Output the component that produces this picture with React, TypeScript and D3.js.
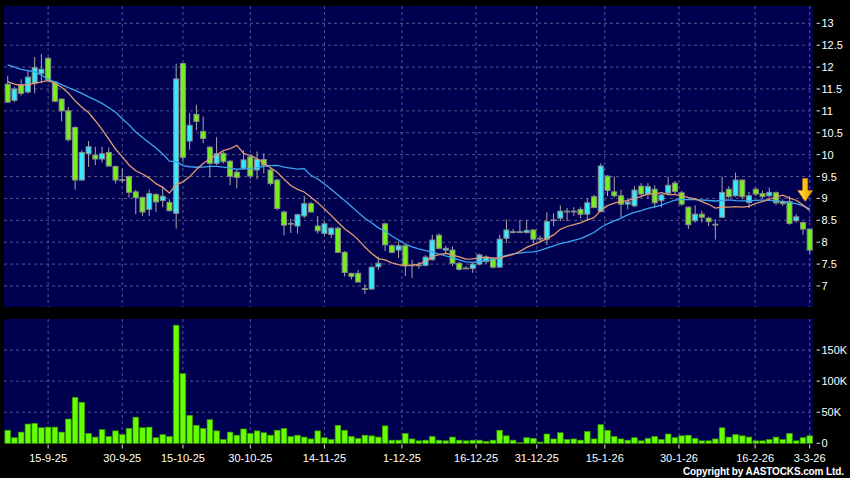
import React from "react";
import * as d3 from "d3";

// ---------- data ----------
const opens = [11.61,11.24,11.6,11.43,11.63,11.85,12.2,11.66,11.27,11.0, 10.62,9.42,10.02,9.99,9.9,10.05,9.73,9.43,9.5,9.15, 9.02,8.75,9.09,8.95,8.91,8.66,12.08,10.31,10.92,10.53, 10.17,9.8,10.03,9.85,9.6,9.69,9.95,9.65,9.89,9.65, 9.42,8.69,8.43,8.37,8.6,8.88,8.37,8.2,8.18,8.32, 7.77,7.29,7.29,6.94,6.93,7.44,8.42,7.92,7.82,7.92, 7.48,7.47,7.47,7.6,8.16,7.82,7.82,7.52,7.41,7.4, 7.5,7.56,7.63,7.43,8.09,8.24,8.24,8.22,8.28,8.08, 8.07,8.5,8.55,8.71,8.71,8.75,8.64,9.04,8.7,9.51, 9.15,9.06,8.87,8.83,9.28,9.1,9.21,8.95,9.12,9.35, 9.13,8.8,8.49,8.64,8.55,8.41,8.57,9.21,9.06,9.42, 8.91,9.21,9.11,9.06,9.13,8.93,8.93,8.49,8.45,8.3];
const highs = [11.8,11.55,11.72,11.92,12.23,12.3,12.23,11.68,11.28,11.08, 10.65,10.1,10.31,10.18,10.18,10.16,9.75,9.68,9.52,9.2, 9.05,9.2,9.12,9.27,8.98,12.08,12.1,10.95,11.14,10.87, 10.2,10.4,10.07,9.88,9.65,10.1,9.98,10.07,10.03,9.7, 9.45,8.72,8.54,8.65,9.06,8.92,8.6,8.48,8.35,8.35, 7.8,7.3,7.37,7.04,7.45,7.67,8.45,7.95,8.02,7.95, 7.6,7.55,7.7,8.17,8.2,7.92,7.9,7.55,7.45,7.52, 7.74,7.7,7.65,8.17,8.52,8.3,8.51,8.51,8.3,8.15, 8.68,8.66,8.84,8.78,8.8,8.8,9.0,9.08,9.8,9.53, 9.5,9.2,9.0,9.28,9.35,9.35,9.3,9.1,9.5,9.4, 9.17,8.82,8.84,8.72,8.58,8.52,9.5,9.28,9.59,9.43, 9.15,9.25,9.18,9.25,9.16,8.98,9.05,8.64,8.47,8.31];
const lows = [11.18,11.2,11.35,11.4,11.4,11.63,11.65,11.2,10.76,10.3, 9.2,9.4,9.72,9.76,9.82,9.72,9.34,9.35,9.02,8.64, 8.6,8.6,8.69,8.8,8.7,8.31,9.84,10.11,10.56,10.26, 9.48,9.76,9.8,9.3,9.23,9.65,9.45,9.44,9.57,9.3, 8.73,8.16,8.21,8.2,8.55,8.68,8.2,8.15,8.1,7.75, 7.22,7.15,7.08,6.82,6.92,7.37,7.8,7.75,7.64,7.23, 7.18,7.4,7.45,7.58,7.84,7.75,7.45,7.35,7.38,7.3, 7.47,7.5,7.4,7.42,7.98,8.2,8.22,8.2,7.98,8.02, 7.94,8.37,8.48,8.48,8.6,8.55,8.5,8.78,8.68,9.05, 9.02,8.57,8.75,8.8,9.05,9.0,8.78,8.8,9.1,9.1, 8.83,8.3,8.45,8.45,8.37,8.06,8.55,9.0,9.03,8.98, 8.78,9.05,9.0,9.02,8.85,8.83,8.4,8.45,8.17,7.74];
const closes = [11.2,11.5,11.4,11.77,11.99,11.95,11.7,11.22,11.0,10.34, 9.42,10.05,10.18,9.9,10.02,9.74,9.42,9.42,9.14,9.02, 8.69,9.11,8.92,9.05,8.72,11.73,9.94,10.67,10.76,10.37, 9.8,10.02,9.84,9.5,9.48,9.88,9.51,9.89,9.76,9.34, 8.77,8.39,8.43,8.63,8.88,8.69,8.26,8.42,8.32,7.77, 7.31,7.22,7.09,6.93,7.43,7.52,7.94,7.77,7.92,7.47, 7.47,7.48,7.66,8.05,7.86,7.86,7.52,7.38,7.41,7.5, 7.71,7.66,7.43,8.07,8.28,8.24,8.24,8.27,8.07,8.09, 8.47,8.51,8.71,8.71,8.71,8.64,8.9,8.79,9.74,9.18, 9.06,8.87,8.92,9.19,9.1,9.27,8.9,9.08,9.3,9.16, 8.87,8.4,8.64,8.57,8.47,8.41,9.14,9.04,9.42,9.04, 9.06,9.1,9.04,9.14,8.9,8.88,8.43,8.58,8.3,7.82];
// volume in thousands of shares
const volumesK = [21,9,18,31,32,25,26,26,18,39, 74,66,16,10,22,11,20,14,24,42, 25,26,9,14,11,190,112,45,29,24, 38,20,6,18,13,23,16,20,17,13, 21,24,11,13,10,7,20,9,6,29, 21,11,8,13,12,10,28,5,5,16, 7,4,5,11,5,4,10,5,4,5, 5,3,5,21,12,5,1,9,8,2, 15,7,17,6,7,5,19,7,30,21, 11,7,5,9,4,8,11,6,15,9, 12,13,8,4,4,7,25,10,14,12, 10,4,4,6,10,6,16,4,9,12];
// moving-average values before enough sessions are in the window
const ma10Lead = [11.67,11.61,11.58,11.6,11.63,11.66,11.69,11.63,11.54];
const ma20Lead = [12.05,12.0,11.95,11.92,11.89,11.82,11.72,11.66,11.6,11.53,11.47,11.4,11.32,11.25,11.17,11.07,10.97,10.82,10.68];
const priceTicks = [7,7.5,8,8.5,9,9.5,10,10.5,11,11.5,12,12.5,13];
const volumeTicks = [0,50,100,150];
const dateLabels = ["15-9-25","30-9-25","15-10-25","30-10-25","14-11-25","1-12-25","16-12-25","31-12-25","15-1-26","30-1-26","16-2-26","3-3-26"];
const dateLabelIdx = [6,17,26,36,47,58.5,69.5,78.5,88.6,99.6,110.9,119];
const arrowPrice = 8.93;
const copyright = "Copyright by AASTOCKS.com Ltd.";

const FONT = "'Liberation Sans', Arial, sans-serif";

export default function App() {
  const W = 850, H = 478;
  const L = 4, R = 813.5;
  const pTop = 6, pBot = 307, vTop = 319, vBot = 443.5;
  const n = closes.length;

  const x = d3.scaleLinear().domain([0, n - 1]).range([7.7, 809.7]);
  const yP = d3.scaleLinear().domain([7, 13]).range([286, 23.3]);
  const yV = d3.scaleLinear().domain([0, 200]).range([443.3, 319]);

  const sma = (period: number, lead: number[]) =>
    closes.map((c, i) => (i >= period - 1 ? (d3.mean(closes.slice(i - period + 1, i + 1)) as number) : lead[i]));
  const ma10 = sma(10, ma10Lead);
  const ma20 = sma(20, ma20Lead);

  const line = d3.line<number>().x((_, i) => x(i)).y((d) => yP(d));

  const bodyW = 5;
  const volW = 5.6;
  const grid = "#55558c";
  const panelFill = "#000050";

  const ax = x(n - 1) - 4.5;
  const ay = yP(arrowPrice);
  const arrowPath = `M${ax - 2.6},${ay - 23} L${ax + 2.6},${ay - 23} L${ax + 2.6},${ay - 11} L${ax + 7.5},${ay - 11} L${ax},${ay} L${ax - 7.5},${ay - 11} L${ax - 2.6},${ay - 11} Z`;

  return (
    <svg width={W} height={H} style={{ position: "absolute", left: 0, top: 0, display: "block" }} fontFamily={FONT}>
      <defs>
        <clipPath id="pclip"><rect x={L} y={pTop} width={R - L} height={pBot - pTop} /></clipPath>
        <linearGradient id="arrowG" x1="0" x2="1" y1="0" y2="0">
          <stop offset="0" stopColor="#ffe680" />
          <stop offset="0.5" stopColor="#ffc20e" />
          <stop offset="1" stopColor="#e09000" />
        </linearGradient>
      </defs>
      <rect x={0} y={0} width={W} height={H} fill="#000" />
      {/* panels */}
      <rect x={L} y={pTop} width={R - L} height={pBot - pTop} fill={panelFill} />
      <rect x={L} y={vTop} width={R - L} height={vBot - vTop} fill={panelFill} />

      {/* horizontal grid */}
      {priceTicks.map((t) => (
        <line key={"pg" + t} x1={L} x2={R} y1={yP(t)} y2={yP(t)} stroke={grid} strokeDasharray="3,3" strokeWidth={1} />
      ))}
      {volumeTicks.filter((t) => t > 0).map((t) => (
        <line key={"vg" + t} x1={L} x2={R} y1={yV(t)} y2={yV(t)} stroke={grid} strokeDasharray="3,3" strokeWidth={1} />
      ))}
      {/* vertical grid */}
      {dateLabelIdx.map((d, k) => (
        <g key={"vgl" + k}>
          <line x1={x(d)} x2={x(d)} y1={pTop} y2={pBot} stroke={grid} strokeDasharray="3,3" />
          <line x1={x(d)} x2={x(d)} y1={vTop} y2={vBot} stroke={grid} strokeDasharray="3,3" />
        </g>
      ))}

      {/* candles */}
      <g clipPath="url(#pclip)">
        {closes.map((c, i) => {
          const o = opens[i];
          const up = c >= o;
          const cx = x(i);
          const top = yP(Math.max(o, c));
          const bot = yP(Math.min(o, c));
          const h = Math.max(bot - top, 0.8);
          return (
            <g key={"c" + i}>
              <line x1={cx} x2={cx} y1={yP(highs[i])} y2={yP(lows[i])} stroke="#a8a8a8" strokeWidth={1} />
              <rect x={cx - bodyW / 2} y={top} width={bodyW} height={h}
                fill={up ? "#33eaff" : "#74f01c"} stroke="#8a8a8a" strokeWidth={1} />
            </g>
          );
        })}
        <path d={line(ma20) || ""} fill="none" stroke="#3aa6ee" strokeWidth={1.3} />
        <path d={line(ma10) || ""} fill="none" stroke="#e39a72" strokeWidth={1.3} />
      </g>

      {/* arrow */}
      <path d={arrowPath} fill="url(#arrowG)" stroke="#c88000" strokeWidth={0.6} />

      {/* volume */}
      {volumesK.map((v, i) => (
        <rect key={"v" + i} x={x(i) - volW / 2} y={yV(v)} width={volW} height={yV(0) - yV(v)}
          fill="#66ff00" stroke="#3a9a00" strokeWidth={0.7} />
      ))}

      {/* right price axis */}
      {priceTicks.map((t) => (
        <g key={"pl" + t}>
          <line x1={816.5} x2={820} y1={yP(t)} y2={yP(t)} stroke="#ddd" />
          <text x={821.5} y={yP(t) + 4} fill="#fff" fontSize={11}>{String(t)}</text>
        </g>
      ))}
      {volumeTicks.map((t) => (
        <g key={"vl" + t}>
          <line x1={816.5} x2={820} y1={yV(t)} y2={yV(t)} stroke="#ddd" />
          <text x={821.5} y={yV(t) + 4} fill="#fff" fontSize={11}>{t === 0 ? "0" : t + "K"}</text>
        </g>
      ))}

      {/* x axis */}
      {dateLabels.map((lab, k) => (
        <g key={"xl" + k}>
          <line x1={x(dateLabelIdx[k])} x2={x(dateLabelIdx[k])} y1={vBot + 1} y2={vBot + 5} stroke="#ddd" />
          <text x={x(dateLabelIdx[k])} y={462} fill="#fff" fontSize={11} textAnchor="middle">{lab}</text>
        </g>
      ))}

      <text x={844} y={474.5} fill="#fff" fontSize={10} fontWeight="bold" textAnchor="end"
        textLength={161} lengthAdjust="spacing">{copyright}</text>
    </svg>
  );
}
